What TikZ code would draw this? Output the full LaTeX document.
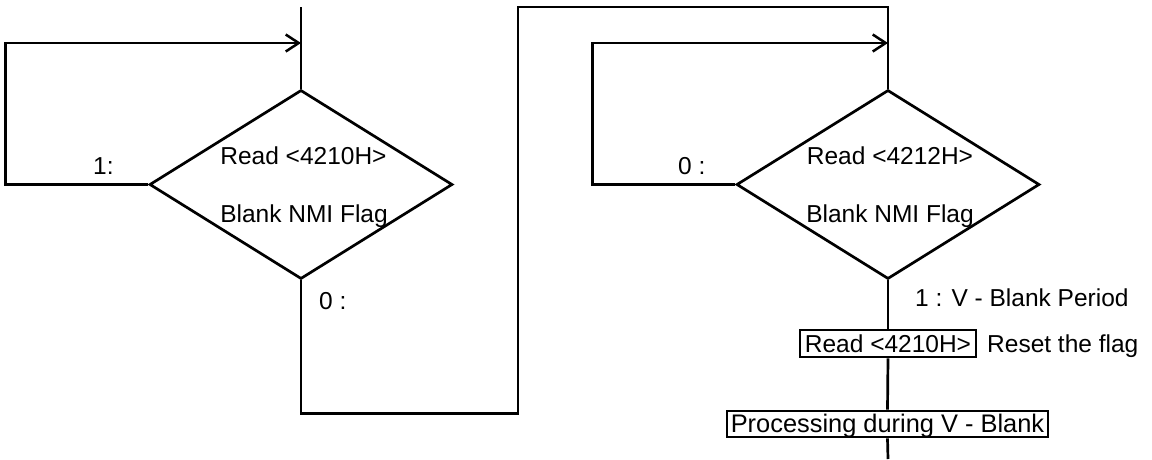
\documentclass[tikz,border=0pt]{standalone}
\usepackage{fontspec}
\setmainfont{Liberation Sans}
\usetikzlibrary{shapes.geometric,arrows.meta}
\begin{document}
\begin{tikzpicture}[x=1pt,y=-1pt,
  every node/.style={font=\fontsize{24.5}{29}\selectfont},
  ln/.style={line width=2.7pt},
  arr/.style={ln,-{Straight Barb[length=13pt,width=17pt,line width=2.5pt]}},
  dia/.style={ln,draw,diamond,inner sep=0pt,minimum width=303pt,minimum height=189pt},
  boxnode/.style={ln,draw,inner sep=0pt,text height=17.6pt,text depth=0pt},
  lbl/.style={inner sep=0pt,anchor=base},
  lblw/.style={inner sep=0pt,anchor=base west}]
\useasboundingbox (0,0) rectangle (1152,459);
% nodes
\coordinate (top1) at (301,7);
\node[dia] (d1) at (301,184.5) {};
\node[dia] (d2) at (888,184.5) {};
\node[boxnode,minimum width=176pt,minimum height=27pt] (b1) at (888,343.5) {Read <4210H>};
\node[boxnode,minimum width=321pt,minimum height=26pt,font=\fontsize{25.4}{29}\selectfont] (b2) at (887.5,424) {Processing during V - Blank};
\coordinate (endp) at (888,459);
\coordinate (j1) at (301,43);
\coordinate (j2) at (888,43);
% texts
\node[lbl] (t1a) at (303.5,164) {Read <4210H>};
\node[lbl] (t1b) at (304,222) {Blank NMI Flag};
\node[lbl] (t2a) at (890,164) {Read <4212H>};
\node[lbl] (t2b) at (890,222) {Blank NMI Flag};
\node[lblw] (l1) at (93,174) {1:};
\node[lblw] (l0) at (678,174) {0 :};
\node[lblw] (l0b) at (319,309) {0 :};
\node[lblw] (lv) at (915,306) {1 : V - Blank Period};
\node[lblw] (lr) at (987,352) {Reset the flag};
% connectors
\draw[ln] (top1) -- (d1.north);
\draw[arr] (d1.west) -- ++(-143,0) |- (j1);
\draw[ln] (d1.south) -- ++(0,133) -| (518,7) -| (d2.north);
\draw[arr] (d2.west) -- ++(-143,0) |- (j2);
\draw[ln] (d2.south) -- (b1.north);
\draw[ln] (b1.south) -- (b2.north);
\draw[ln] (b2.south) -- (endp);
\end{tikzpicture}
\end{document}
